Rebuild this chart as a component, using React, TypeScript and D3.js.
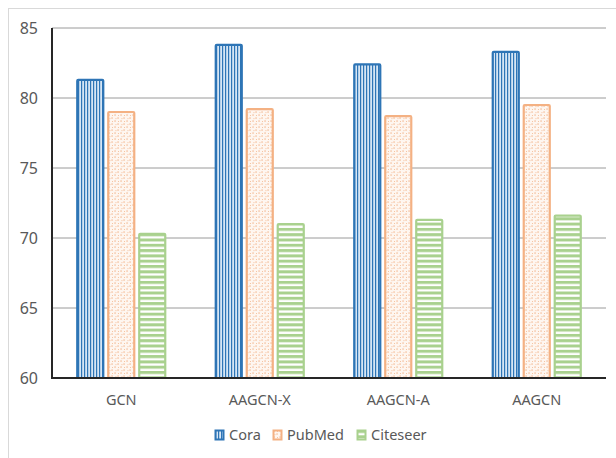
import React from "react";
import * as d3 from "d3";

const categories = ["GCN", "AAGCN-X", "AAGCN-A", "AAGCN"];
const seriesNames = ["Cora", "PubMed", "Citeseer"];
const cora = [81.3, 83.8, 82.4, 83.3];
const pubmed = [79.0, 79.2, 78.7, 79.5];
const citeseer = [70.3, 71.0, 71.3, 71.6];
const yTicks = [60, 65, 70, 75, 80, 85];

const W = 616;
const H = 458;
const margin = { left: 52, right: 10, top: 28, bottom: 80 };
const FONT = "'Noto Sans', 'Open Sans', sans-serif";

const strokes = ["#2e75b6", "#f4b183", "#a9d18e"];
const patternIds = ["pat-cora", "pat-pubmed", "pat-citeseer"];

export default function App() {
  const values = [cora, pubmed, citeseer];
  const plotRight = W - margin.right;
  const plotBottom = H - margin.bottom;

  const x = d3.scaleBand<string>().domain(categories).range([margin.left, plotRight]);
  const xs = d3
    .scaleBand<string>()
    .domain(seriesNames)
    .range([0, 88])
    .paddingInner(0.16);
  const y = d3.scaleLinear().domain([60, 85]).range([plotBottom, margin.top]);

  const legendX = [215, 273, 357];

  return (
    <svg width={W} height={H} style={{ position: "absolute", left: 0, top: 0 }}>
      <defs>
        <pattern id="pat-cora" width={3} height={4} patternUnits="userSpaceOnUse">
          <rect width={3} height={4} fill="#d6e6f5" />
          <rect x={0} width={1.2} height={4} fill="#2e75b6" />
        </pattern>
        <pattern id="pat-pubmed" width={6} height={6} patternUnits="userSpaceOnUse">
          <rect width={6} height={6} fill="#fef6f0" />
          <rect x={0.5} y={0.5} width={1.1} height={1.1} fill="#ee9d68" />
          <rect x={3.5} y={3.5} width={1.1} height={1.1} fill="#ee9d68" />
          <rect x={4} y={1} width={0.9} height={0.9} fill="#f4b98f" />
          <rect x={1.5} y={4.2} width={0.9} height={0.9} fill="#f4b98f" />
        </pattern>
        <pattern id="pat-citeseer" width={4} height={5.3} patternUnits="userSpaceOnUse">
          <rect width={4} height={5.3} fill="#ffffff" />
          <rect y={0} width={4} height={3} fill="#a9d18e" />
        </pattern>
      </defs>

      <rect x={0} y={0} width={W} height={H} fill="#ffffff" />
      {/* outer frame */}
      <line x1={8.5} y1={8} x2={8.5} y2={H} stroke="#d9d9d9" strokeWidth={1} />
      <line x1={8} y1={8.5} x2={W} y2={8.5} stroke="#d9d9d9" strokeWidth={1} />

      {/* grid lines and y labels */}
      {yTicks.map((t) => (
        <g key={t}>
          {t !== 60 && (
            <line
              x1={margin.left}
              x2={plotRight}
              y1={y(t)}
              y2={y(t)}
              stroke="#9a9a9a"
              strokeWidth={1}
            />
          )}
          <text
            x={38}
            y={y(t)}
            dy="0.35em"
            textAnchor="end"
            fontFamily={FONT}
            fontSize={16}
            fill="#595959"
          >
            {t}
          </text>
        </g>
      ))}

      {/* bars */}
      {categories.map((c, i) => {
        const gx = (x(c) as number) + (x.bandwidth() - 88) / 2;
        return (
          <g key={c}>
            {seriesNames.map((s, j) => {
              const v = values[j][i];
              const bx = gx + (xs(s) as number);
              const top = y(v);
              return (
                <rect
                  key={s}
                  x={bx}
                  y={top}
                  width={xs.bandwidth()}
                  height={plotBottom - top}
                  fill={`url(#${patternIds[j]})`}
                  stroke={strokes[j]}
                  strokeWidth={2.2}
                  rx={1}
                />
              );
            })}
            <text
              x={(x(c) as number) + x.bandwidth() / 2}
              y={400}
              dy="0.35em"
              textAnchor="middle"
              fontFamily={FONT}
              fontSize={14.5}
              fill="#595959"
            >
              {c}
            </text>
          </g>
        );
      })}

      {/* axes */}
      <line x1={margin.left} x2={margin.left} y1={margin.top} y2={plotBottom} stroke="#262626" strokeWidth={2} />
      <line x1={margin.left - 1} x2={plotRight} y1={plotBottom} y2={plotBottom} stroke="#262626" strokeWidth={2} />

      {/* legend */}
      {seriesNames.map((s, j) => (
        <g key={s} transform={`translate(${legendX[j]},${430})`}>
          <rect x={0.5} y={0.5} width={8} height={9} fill={`url(#${patternIds[j]})`} stroke={strokes[j]} strokeWidth={2} />
          <text x={14} y={5} dy="0.35em" fontFamily={FONT} fontSize={14.5} fill="#595959">
            {s}
          </text>
        </g>
      ))}
    </svg>
  );
}
